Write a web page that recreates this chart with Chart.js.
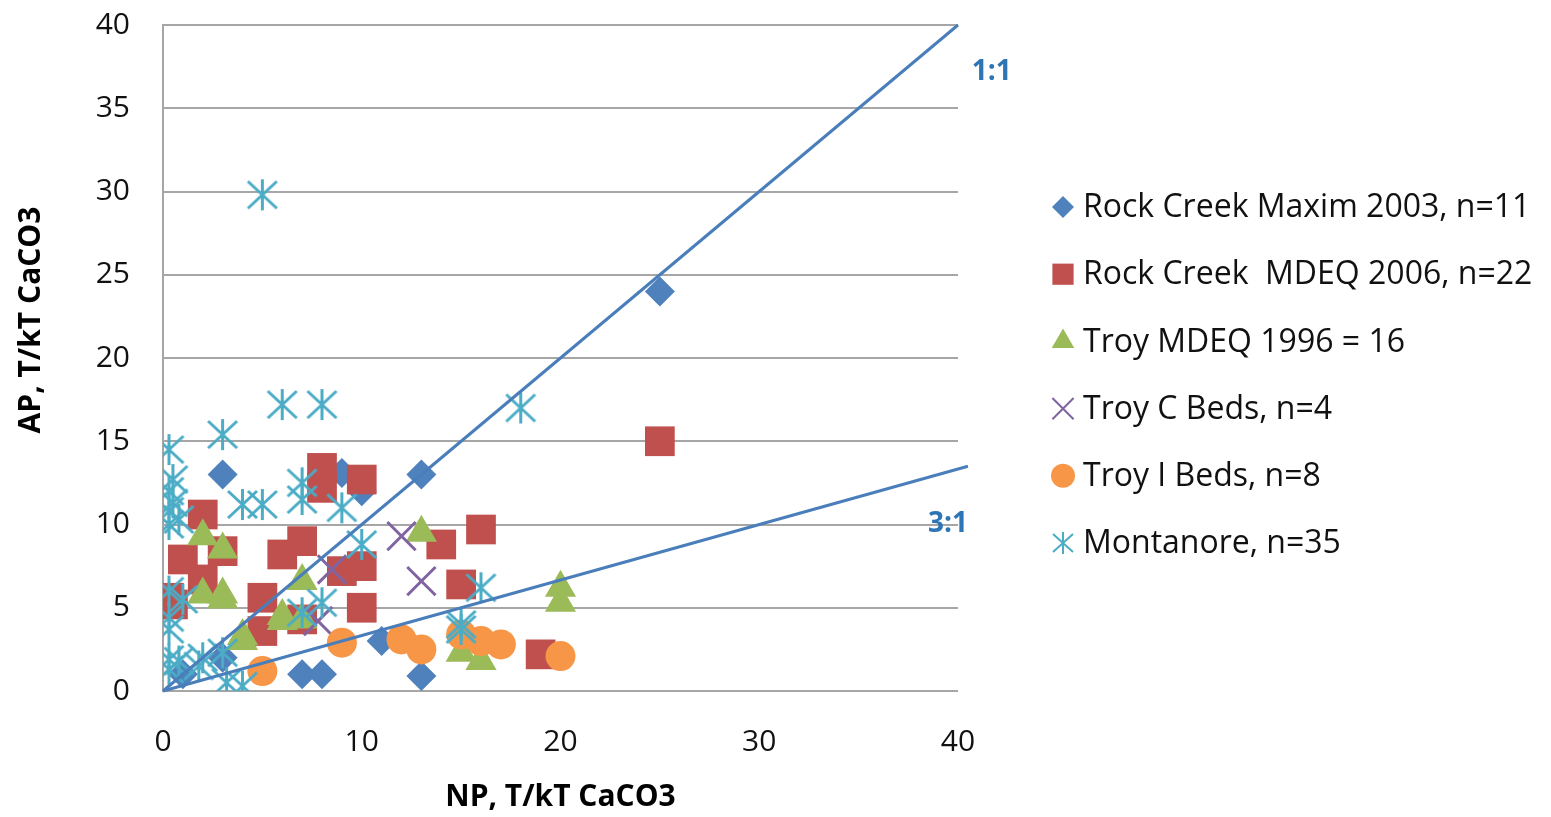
<!DOCTYPE html>
<html>
<head>
<meta charset="utf-8">
<script src="https://cdn.jsdelivr.net/npm/chart.js@4.4.1/dist/chart.umd.min.js"></script>
<style>
html,body{margin:0;padding:0;background:#fff;}
#wrap{position:relative;width:1551px;height:817px;}
</style>
</head>
<body>
<div id="wrap"><canvas id="c"></canvas></div>
<script>
// ---- Data ----
const maximNP = [25, 13, 3, 9, 10, 7, 8, 13, 11, 3, 1];
const maximAP = [24, 13, 13, 13.1, 12, 1, 1, 0.9, 3, 2, 1];

const mdeqNP = [25, 19, 8, 8, 10, 2, 1, 3, 2, 0.3, 6, 7, 5, 5, 7, 9, 10, 10, 14, 16, 15, 0.5];
const mdeqAP = [15, 2.2, 13.4, 12.2, 12.7, 10.6, 7.9, 8.4, 6.7, 5.6, 8.2, 9, 5.6, 3.6, 4.3, 7.2, 7.5, 5, 8.8, 9.7, 6.4, 5.2];

const troyNP = [20, 20, 13, 15, 16, 2, 3, 2, 3, 4, 7, 6, 7, 3, 6, 4];
const troyAP = [6.2, 5.3, 9.5, 2.3, 1.8, 9.3, 8.5, 5.8, 5.8, 3.3, 6.6, 4.2, 4.3, 5.5, 4.5, 3.0];

const cBedsNP = [12, 13, 8.5, 7.8];
const cBedsAP = [9.3, 6.6, 7.3, 4.2];

const iBedsNP = [5, 9, 12, 13, 15, 16, 17, 20];
const iBedsAP = [1.2, 2.9, 3.1, 2.5, 3.4, 3.0, 2.8, 2.1];

const montNP = [5, 18, 6, 8, 3, 0.3, 0.5, 0.3, 0.5, 0.3, 0.8, 0.3, 4, 5, 7, 7, 9, 10, 16, 15, 8, 7, 0.3, 1, 0.3, 0.3, 0.3, 0.3, 1.8, 3, 3.2, 4, 0.8, 2, 15];
const montAP = [29.8, 17, 17.2, 17.2, 15.4, 14.5, 12.7, 12, 11.3, 10.8, 10.3, 10, 11.2, 11.2, 12.5, 11.5, 11, 8.8, 6.2, 4, 5.3, 4.7, 6, 5.5, 4.4, 3.7, 1.9, 1.3, 1.5, 2.3, 0.5, 0.3, 1.8, 2, 3.7];

const line11NP = [0, 40];
const line11AP = [0, 40];
const line31NP = [0, 40.5];
const line31AP = [0, 13.5];

const seriesNames = [
  'Rock Creek Maxim 2003, n=11',
  'Rock Creek  MDEQ 2006, n=22',
  'Troy MDEQ 1996 = 16',
  'Troy C Beds, n=4',
  'Troy I Beds, n=8',
  'Montanore, n=35'
];
const xTicks = [0, 10, 20, 30, 40];
const yTicks = [0, 5, 10, 15, 20, 25, 30, 35, 40];
const xTitle = 'NP, T/kT CaCO3';
const yTitle = 'AP, T/kT CaCO3';
const ratioLabels = [{t: '1:1', x: 41.7, y: 37.2}, {t: '3:1', x: 39.5, y: 10.0}];

// ---- Helpers ----
const pts = (xs, ys) => xs.map((x, i) => ({x, y: ys[i]}));
const FONT = '"Open Sans", Lato, sans-serif';

function makeStar(size, color, lw) {
  const c = document.createElement('canvas');
  c.width = size; c.height = size;
  const g = c.getContext('2d');
  g.strokeStyle = color; g.lineWidth = lw;
  const h = size / 2, m = 2;
  g.beginPath();
  g.moveTo(h, 1); g.lineTo(h, size - 1);
  g.moveTo(m, m + 1); g.lineTo(size - m, size - m - 1);
  g.moveTo(size - m, m + 1); g.lineTo(m, size - m - 1);
  g.stroke();
  return c;
}
const starBig = makeStar(33, '#4BACC6', 3);
const starSmall = makeStar(24, '#4BACC6', 2);

const COLORS = ['#4F81BD', '#C0504D', '#9BBB59', '#8064A2', '#F79646', '#4BACC6'];

const datasets = [
  {label: '1:1', data: pts(line11NP, line11AP), showLine: true, borderColor: '#4A7EBB', borderWidth: 3, pointRadius: 0, order: 0, clip: false},
  {label: '3:1', data: pts(line31NP, line31AP), showLine: true, borderColor: '#4A7EBB', borderWidth: 3, pointRadius: 0, order: 0, clip: false},
  {label: seriesNames[0], data: pts(maximNP, maximAP), pointStyle: 'rectRot', pointRadius: 15, backgroundColor: COLORS[0], borderColor: COLORS[0], borderWidth: 0, order: 6},
  {label: seriesNames[1], data: pts(mdeqNP, mdeqAP), pointStyle: 'rect', pointRadius: 21, backgroundColor: COLORS[1], borderColor: COLORS[1], borderWidth: 0, order: 5},
  {label: seriesNames[2], data: pts(troyNP, troyAP), pointStyle: 'triangle', pointRadius: 18, backgroundColor: COLORS[2], borderColor: COLORS[2], borderWidth: 0, order: 4},
  {label: seriesNames[3], data: pts(cBedsNP, cBedsAP), pointStyle: 'crossRot', pointRadius: 20, backgroundColor: COLORS[3], borderColor: COLORS[3], borderWidth: 3, order: 3},
  {label: seriesNames[4], data: pts(iBedsNP, iBedsAP), pointStyle: 'circle', pointRadius: 15, backgroundColor: COLORS[4], borderColor: COLORS[4], borderWidth: 0, order: 2},
  {label: seriesNames[5], data: pts(montNP, montAP), pointStyle: starBig, pointRadius: 16, backgroundColor: COLORS[5], borderColor: COLORS[5], borderWidth: 0, order: 1}
];

const legendStyles = [
  {style: 'rectRot', r: 11},
  {style: 'rect', r: 15},
  {style: 'triangle', r: 13},
  {style: 'crossRot', r: 15, bw: 2},
  {style: 'circle', r: 12},
  {style: starSmall, r: 12}
];

const overlayPlugin = {
  id: 'overlay',
  afterDraw(chart) {
    const ctx = chart.ctx;
    const xs = chart.scales.x, ys = chart.scales.y;
    ctx.save();
    // ratio labels
    ctx.font = 'bold 28px ' + FONT;
    ctx.fillStyle = '#2E75B6';
    ctx.textAlign = 'center'; ctx.textBaseline = 'middle';
    ratioLabels.forEach(l => ctx.fillText(l.t, xs.getPixelForValue(l.x), ys.getPixelForValue(l.y)));
    // axis titles
    ctx.fillStyle = '#000';
    ctx.font = 'bold 30px ' + FONT;
    ctx.fillText(xTitle, (chart.chartArea.left + chart.chartArea.right) / 2, 797);
    ctx.save();
    ctx.translate(31, 320);
    ctx.rotate(-Math.PI / 2);
    ctx.fillText(yTitle, 0, 0);
    ctx.restore();
    // legend
    const lx = 1063, tx = 1083, y0 = 207, dy = 67.2;
    ctx.font = '32px ' + FONT;
    ctx.textAlign = 'left';
    seriesNames.forEach((name, i) => {
      const y = y0 + i * dy;
      const st = legendStyles[i];
      ctx.fillStyle = COLORS[i];
      ctx.strokeStyle = COLORS[i];
      ctx.lineWidth = st.bw || 0;
      Chart.helpers.drawPoint(ctx, {pointStyle: st.style, radius: st.r, rotation: 0, borderWidth: st.bw || 0}, lx, y);
      ctx.fillStyle = '#111';
      ctx.fillText(name, tx, y + 1);
    });
    ctx.restore();
  }
};

new Chart(document.getElementById('c'), {
  type: 'scatter',
  data: {datasets},
  options: {
    responsive: true,
    maintainAspectRatio: false,
    animation: false,
    events: [],
    layout: {padding: {left: 0, right: 593, top: 25, bottom: 0}},
    plugins: {legend: {display: false}, tooltip: {enabled: false}},
    scales: {
      x: {
        type: 'linear', min: 0, max: 40,
        afterFit(s) { s.height = 126; s.paddingLeft = 0; s.paddingRight = 0; },
        afterBuildTicks(s) { s.ticks = xTicks.map(v => ({value: v})); },
        grid: {display: false, drawTicks: false},
        border: {display: false},
        ticks: {padding: 33, color: '#111', font: {family: FONT, size: 30}}
      },
      y: {
        type: 'linear', min: 0, max: 40,
        afterFit(s) { s.width = 163; s.paddingTop = 0; s.paddingBottom = 0; },
        afterBuildTicks(s) { s.ticks = yTicks.map(v => ({value: v})); },
        grid: {color: '#A6A6A6', lineWidth: 2, drawTicks: false},
        border: {display: true, color: '#A6A6A6', width: 2},
        ticks: {padding: 33, color: '#111', font: {family: FONT, size: 30}}
      }
    }
  },
  plugins: [overlayPlugin]
});
</script>
</body>
</html>
